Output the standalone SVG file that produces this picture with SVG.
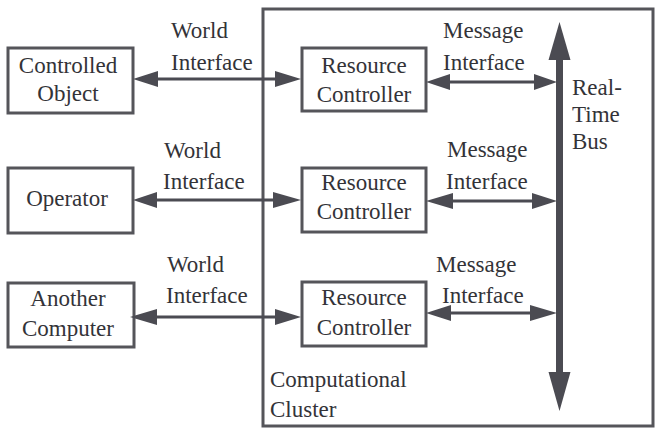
<svg xmlns="http://www.w3.org/2000/svg" width="660" height="436" viewBox="0 0 660 436">
<style>
.box{fill:none;stroke:#55555a;stroke-width:3}
text{font-family:'Liberation Serif','Times New Roman','DejaVu Serif',serif;font-size:23px;fill:#333338}
.c{text-anchor:middle}
.ln{stroke:#4b4b52;stroke-width:3;fill:none}
.hd{fill:#4b4b52}
</style>
<rect width="660" height="436" fill="#ffffff"/>
<g id="cluster">
<rect class="box" x="263" y="9" width="390" height="417"/>
<text x="270" y="387">Computational</text>
<text x="270" y="417">Cluster</text>
</g>
<g id="controlled-object">
<rect class="box" x="8" y="48" width="125" height="65"/>
<text class="c" x="68" y="73">Controlled</text>
<text class="c" x="68" y="101">Object</text>
</g>
<g id="operator">
<rect class="box" x="8" y="168" width="125" height="65"/>
<text class="c" x="67" y="206">Operator</text>
</g>
<g id="another-computer">
<rect class="box" x="8" y="283" width="126" height="64"/>
<text class="c" x="68" y="306">Another</text>
<text class="c" x="68" y="336">Computer</text>
</g>
<g id="rc1">
<rect class="box" x="302" y="48" width="124" height="63"/>
<text class="c" x="364" y="73">Resource</text>
<text class="c" x="364" y="102">Controller</text>
</g>
<g id="rc2">
<rect class="box" x="302" y="168" width="124" height="64"/>
<text class="c" x="364" y="190">Resource</text>
<text class="c" x="364" y="219">Controller</text>
</g>
<g id="rc3">
<rect class="box" x="302" y="282" width="124" height="64"/>
<text class="c" x="364" y="305">Resource</text>
<text class="c" x="364" y="335">Controller</text>
</g>
<g id="bus">
<line class="ln" x1="559.5" y1="55" x2="559.5" y2="378" style="stroke-width:7"/>
<polygon class="hd" points="559.5,22 548.5,60 570.5,60"/>
<polygon class="hd" points="559.5,411 548.5,372 570.5,372"/>
<text x="572" y="95">Real-</text>
<text x="572" y="122">Time</text>
<text x="572" y="149">Bus</text>
</g>
<g id="connectors">
<line class="ln" x1="155" y1="79" x2="278" y2="79"/>
<polygon class="hd" points="133,79 158,71 158,87"/>
<polygon class="hd" points="301,79 275,71 275,87"/>
<line class="ln" x1="155" y1="200" x2="276" y2="200"/>
<polygon class="hd" points="133,200 157,192 157,208"/>
<polygon class="hd" points="301,200 273,192 273,208"/>
<line class="ln" x1="155" y1="317" x2="278" y2="317"/>
<polygon class="hd" points="130,317 157,309 157,325"/>
<polygon class="hd" points="301,317 275,309 275,325"/>
<line class="ln" x1="448" y1="82" x2="537" y2="82"/>
<polygon class="hd" points="426,82 450,74 450,90"/>
<polygon class="hd" points="557,82 534,74 534,90"/>
<line class="ln" x1="450" y1="201" x2="535" y2="201"/>
<polygon class="hd" points="426,201 453,193 453,209"/>
<polygon class="hd" points="557,201 532,193 532,209"/>
<line class="ln" x1="449" y1="313" x2="533" y2="313"/>
<polygon class="hd" points="426,313 451,305 451,321"/>
<polygon class="hd" points="557,313 530,305 530,321"/>
</g>
<g id="labels">
<text x="171" y="38">World</text>
<text x="171" y="70">Interface</text>
<text x="164" y="158">World</text>
<text x="163" y="189">Interface</text>
<text x="167" y="272">World</text>
<text x="166" y="303">Interface</text>
<text x="443" y="38">Message</text>
<text x="443" y="70">Interface</text>
<text x="447" y="157">Message</text>
<text x="446" y="189">Interface</text>
<text x="436" y="272">Message</text>
<text x="442" y="303">Interface</text>
</g>
</svg>
